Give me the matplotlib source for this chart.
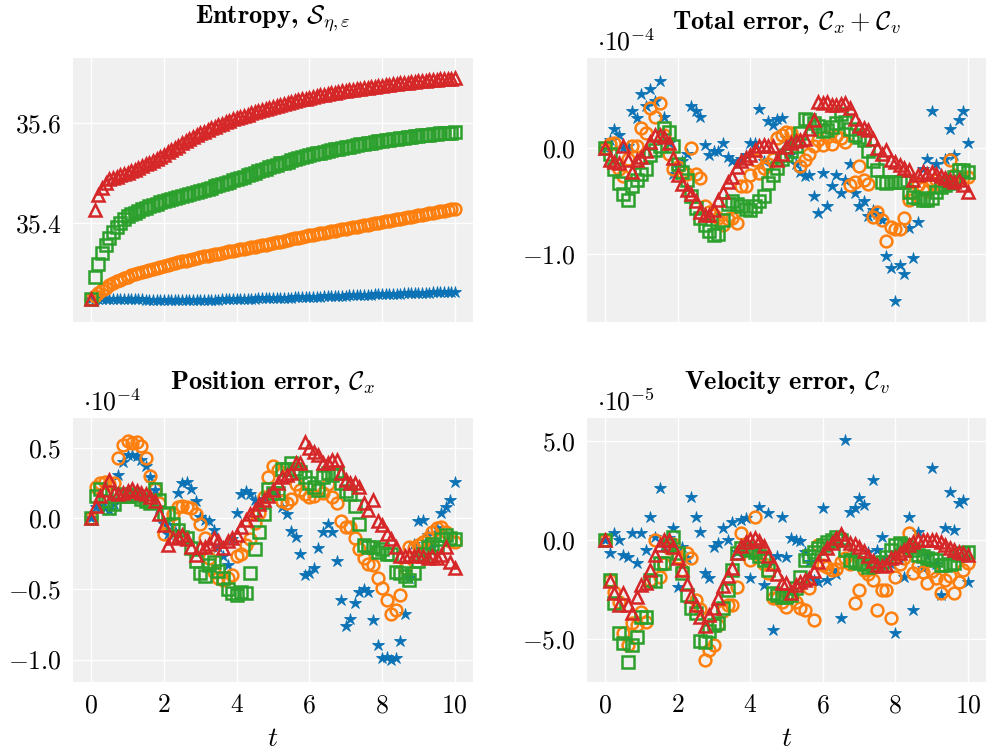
import numpy as np
import matplotlib
matplotlib.use("Agg")
import matplotlib.pyplot as plt
from matplotlib.ticker import FuncFormatter

plt.rcParams["font.family"] = "serif"
plt.rcParams["font.serif"] = ["cmr10"]
plt.rcParams["mathtext.fontset"] = "cm"
plt.rcParams["axes.formatter.use_mathtext"] = True

# time grids: entropy every 0.1, errors every 1/8
t_ent = np.linspace(0, 10, 101)
t = np.linspace(0, 10, 81)

# ---- entropy S_{eta,eps}
ent_blue = [35.247, 35.246, 35.246, 35.246, 35.246, 35.246, 35.246, 35.246, 35.246, 35.246,
            35.246, 35.246, 35.246, 35.246, 35.246, 35.245, 35.245, 35.245, 35.245, 35.245,
            35.245, 35.245, 35.245, 35.245, 35.245, 35.245, 35.245, 35.245, 35.245, 35.245,
            35.245, 35.245, 35.245, 35.245, 35.245, 35.245, 35.246, 35.246, 35.246, 35.246,
            35.246, 35.246, 35.247, 35.247, 35.247, 35.247, 35.248, 35.248, 35.248, 35.248,
            35.248, 35.248, 35.249, 35.249, 35.249, 35.249, 35.250, 35.250, 35.250, 35.250,
            35.250, 35.251, 35.251, 35.251, 35.252, 35.252, 35.252, 35.253, 35.253, 35.253,
            35.253, 35.254, 35.254, 35.254, 35.255, 35.255, 35.255, 35.255, 35.256, 35.256,
            35.256, 35.256, 35.257, 35.257, 35.257, 35.257, 35.258, 35.258, 35.258, 35.258,
            35.259, 35.259, 35.259, 35.259, 35.260, 35.260, 35.260, 35.260, 35.261, 35.261,
            35.261]
ent_orange = [35.247, 35.253, 35.259, 35.264, 35.269, 35.274, 35.278, 35.282, 35.285, 35.288,
              35.291, 35.294, 35.296, 35.299, 35.301, 35.303, 35.305, 35.308, 35.310, 35.312,
              35.314, 35.316, 35.318, 35.319, 35.321, 35.323, 35.324, 35.326, 35.328, 35.329,
              35.331, 35.333, 35.334, 35.335, 35.337, 35.338, 35.340, 35.341, 35.343, 35.344,
              35.346, 35.347, 35.348, 35.350, 35.351, 35.352, 35.354, 35.355, 35.356, 35.358,
              35.359, 35.361, 35.362, 35.364, 35.365, 35.367, 35.369, 35.370, 35.372, 35.373,
              35.375, 35.376, 35.378, 35.379, 35.380, 35.382, 35.383, 35.384, 35.385, 35.387,
              35.388, 35.389, 35.391, 35.392, 35.393, 35.395, 35.396, 35.397, 35.399, 35.400,
              35.401, 35.403, 35.404, 35.405, 35.407, 35.408, 35.409, 35.411, 35.412, 35.414,
              35.415, 35.416, 35.418, 35.419, 35.420, 35.422, 35.423, 35.424, 35.426, 35.427,
              35.428]
ent_green = [35.247, 35.290, 35.318, 35.340, 35.356, 35.369, 35.382, 35.392, 35.400, 35.407,
             35.414, 35.417, 35.420, 35.423, 35.427, 35.430, 35.433, 35.435, 35.438, 35.441,
             35.443, 35.445, 35.447, 35.449, 35.451, 35.453, 35.455, 35.457, 35.459, 35.461,
             35.463, 35.465, 35.468, 35.470, 35.473, 35.475, 35.477, 35.480, 35.482, 35.485,
             35.487, 35.490, 35.492, 35.495, 35.498, 35.500, 35.503, 35.506, 35.508, 35.511,
             35.514, 35.516, 35.519, 35.521, 35.523, 35.526, 35.528, 35.530, 35.532, 35.534,
             35.536, 35.538, 35.540, 35.541, 35.543, 35.545, 35.546, 35.548, 35.549, 35.551,
             35.552, 35.553, 35.555, 35.556, 35.558, 35.559, 35.560, 35.561, 35.563, 35.564,
             35.565, 35.566, 35.567, 35.568, 35.569, 35.570, 35.571, 35.572, 35.573, 35.574,
             35.575, 35.576, 35.577, 35.577, 35.578, 35.579, 35.580, 35.580, 35.581, 35.581,
             35.582]
ent_red = [35.247, 35.425, 35.455, 35.470, 35.480, 35.487, 35.490, 35.492, 35.495, 35.497,
           35.500, 35.503, 35.506, 35.510, 35.513, 35.517, 35.521, 35.525, 35.529, 35.533,
           35.537, 35.542, 35.546, 35.551, 35.555, 35.560, 35.564, 35.568, 35.572, 35.576,
           35.580, 35.583, 35.587, 35.590, 35.593, 35.596, 35.599, 35.602, 35.605, 35.608,
           35.610, 35.612, 35.615, 35.617, 35.620, 35.622, 35.624, 35.626, 35.628, 35.631,
           35.633, 35.635, 35.637, 35.639, 35.641, 35.643, 35.644, 35.646, 35.648, 35.649,
           35.651, 35.653, 35.654, 35.656, 35.657, 35.658, 35.660, 35.661, 35.662, 35.664,
           35.665, 35.666, 35.667, 35.668, 35.669, 35.670, 35.671, 35.672, 35.673, 35.674,
           35.675, 35.676, 35.677, 35.678, 35.679, 35.680, 35.681, 35.681, 35.682, 35.683,
           35.684, 35.685, 35.685, 35.686, 35.686, 35.687, 35.688, 35.688, 35.689, 35.689,
           35.690]

# ---- total error C_x + C_v  (units of 1e-4)
tot_blue = [0.00, 0.08, 0.18, 0.13, 0.00, 0.02, 0.35, 0.29, 0.51, 0.40,
            0.56, 0.45, 0.64, 0.30, 0.05, -0.24, -0.18, -0.12, -0.05, 0.40,
            0.35, 0.30, 0.03, -0.06, -0.03, -0.03, 0.05, -0.08, -0.12, -0.15,
            -0.10, -0.06, 0.05, 0.05, 0.37, -0.12, 0.26, 0.22, 0.28, 0.29,
            0.10, -0.05, -0.15, -0.22, -0.26, -0.25, -0.45, -0.61, -0.23, -0.55,
            -0.36, -0.25, -0.42, -0.30, -0.15, -0.42, -0.55, -0.50, -0.64, -0.58,
            -0.62, -0.68, -1.02, -1.13, -1.44, -1.10, -1.19, -0.75, -1.04, -0.70,
            -0.20, -0.10, 0.35, -0.15, -0.30, -0.10, 0.18, -0.06, 0.27, 0.35,
            0.05]
tot_orange = [0.00, 0.04, 0.05, -0.20, -0.26, -0.10, 0.02, 0.02, 0.19, 0.14,
              0.38, 0.30, 0.43, 0.13, -0.05, -0.20, -0.18, -0.22, -0.24, 0.00,
              -0.24, -0.28, -0.55, -0.60, -0.63, -0.66, -0.73, -0.67, -0.66, -0.71,
              -0.36, -0.36, -0.25, -0.11, -0.23, -0.19, -0.15, -0.10, 0.10, 0.13,
              0.15, 0.14, 0.08, -0.17, -0.11, -0.05, 0.02, 0.08, 0.03, 0.11,
              0.04, 0.12, 0.10, 0.06, -0.35, -0.32, -0.17, -0.30, -0.34, -0.65,
              -0.60, -0.68, -0.88, -0.74, -0.76, -0.76, -0.66, -0.49, -0.42, -0.35,
              -0.38, -0.40, -0.33, -0.30, -0.35, -0.32, -0.11, -0.25, -0.30, -0.28,
              -0.27]
tot_green = [0.00, -0.05, -0.20, -0.33, -0.43, -0.49, -0.36, -0.30, -0.24, -0.20,
             -0.06, -0.02, 0.02, 0.19, 0.15, 0.02, -0.15, -0.22, -0.30, -0.45,
             -0.56, -0.66, -0.73, -0.78, -0.82, -0.81, -0.68, -0.53, -0.50, -0.53,
             -0.55, -0.57, -0.58, -0.55, -0.50, -0.45, -0.33, -0.25, -0.19, -0.10,
             -0.06, -0.03, 0.02, 0.14, 0.28, 0.27, 0.24, 0.21, 0.16, 0.17,
             0.20, 0.24, 0.32, 0.25, 0.18, 0.13, 0.11, 0.08, -0.03, -0.12,
             -0.21, -0.32, -0.33, -0.32, -0.32, -0.32, -0.32, -0.41, -0.46, -0.47,
             -0.49, -0.49, -0.47, -0.41, -0.37, -0.35, -0.33, -0.27, -0.21, -0.21,
             -0.22]
tot_red = [0.00, -0.11, -0.13, -0.14, 0.02, -0.11, -0.22, -0.11, -0.08, -0.03,
           0.06, 0.13, 0.13, 0.11, 0.05, -0.09, -0.25, -0.34, -0.39, -0.43,
           -0.50, -0.60, -0.63, -0.63, -0.58, -0.49, -0.41, -0.32, -0.27, -0.18,
           -0.12, -0.09, -0.06, -0.02, 0.02, 0.03, 0.02, 0.02, -0.11, -0.05,
           0.01, 0.05, 0.07, 0.08, 0.09, 0.18, 0.27, 0.44, 0.43, 0.44,
           0.41, 0.41, 0.42, 0.43, 0.38, 0.28, 0.21, 0.19, 0.17, 0.09,
           0.00, -0.05, -0.02, -0.11, -0.13, -0.16, -0.19, -0.21, -0.30, -0.25,
           -0.22, -0.24, -0.22, -0.24, -0.26, -0.28, -0.30, -0.32, -0.30, -0.35,
           -0.41]

# ---- position error C_x  (units of 1e-4)
cx_blue = [0.00, 0.08, 0.09, 0.07, 0.06, 0.10, 0.31, 0.40, 0.45, 0.45,
           0.44, 0.41, 0.37, 0.29, 0.20, 0.07, -0.04, -0.11, -0.05, 0.18,
           0.25, 0.26, 0.21, 0.12, 0.01, -0.01, -0.02, -0.08, -0.20, -0.27,
           -0.33, -0.15, 0.04, 0.17, 0.19, 0.17, 0.13, 0.11, 0.14, 0.17,
           0.20, 0.16, 0.08, 0.03, -0.09, -0.13, -0.25, -0.40, -0.39, -0.35,
           -0.21, -0.10, -0.04, -0.10, -0.30, -0.58, -0.76, -0.71, -0.60, -0.52,
           -0.50, -0.52, -0.72, -0.90, -0.99, -0.98, -1.00, -0.99, -0.87, -0.68,
           -0.42, -0.18, -0.02, -0.01, -0.12, -0.20, -0.07, 0.04, 0.08, 0.13,
           0.26]
cx_orange = [0.00, 0.22, 0.25, 0.26, 0.24, 0.25, 0.43, 0.52, 0.55, 0.53,
             0.54, 0.51, 0.43, 0.30, 0.21, 0.11, -0.11, -0.05, 0.03, 0.08,
             0.09, 0.08, 0.07, 0.03, -0.04, -0.14, -0.28, -0.38, -0.42, -0.44,
             -0.42, -0.40, -0.27, -0.25, -0.19, -0.15, -0.03, 0.04, 0.15, 0.29,
             0.37, 0.34, 0.12, 0.11, 0.14, 0.24, 0.20, 0.17, 0.15, 0.16,
             0.21, 0.18, 0.24, 0.15, 0.11, -0.02, -0.06, -0.06, -0.14, -0.22,
             -0.28, -0.32, -0.33, -0.42, -0.49, -0.58, -0.68, -0.65, -0.54, -0.35,
             -0.20, -0.21, -0.19, -0.17, -0.14, -0.10, -0.07, -0.06, -0.10, -0.16,
             -0.17]
cx_green = [0.00, 0.16, 0.21, 0.12, 0.07, 0.10, 0.17, 0.16, 0.16, 0.17,
            0.16, 0.14, 0.12, 0.11, 0.21, 0.13, 0.03, 0.04, -0.04, -0.08,
            -0.13, -0.14, -0.21, -0.30, -0.39, -0.41, -0.33, -0.31, -0.37, -0.42,
            -0.50, -0.53, -0.54, -0.52, -0.53, -0.39, -0.22, -0.10, 0.03, 0.21,
            0.18, 0.18, 0.35, 0.35, 0.39, 0.35, 0.33, 0.29, 0.25, 0.22,
            0.20, 0.29, 0.32, 0.31, 0.32, 0.25, 0.19, 0.17, 0.09, -0.04,
            -0.19, -0.20, -0.20, -0.24, -0.22, -0.25, -0.25, -0.38, -0.39, -0.41,
            -0.44, -0.39, -0.30, -0.25, -0.20, -0.18, -0.20, -0.15, -0.12, -0.14,
            -0.15]
cx_red = [0.00, 0.09, 0.16, 0.20, 0.27, 0.18, 0.17, 0.18, 0.19, 0.21,
          0.19, 0.18, 0.17, 0.15, 0.12, 0.03, -0.05, -0.19, -0.14, -0.13,
          -0.12, -0.15, -0.20, -0.26, -0.20, -0.20, -0.18, -0.14, -0.16, -0.21,
          -0.16, -0.14, -0.12, -0.06, -0.01, 0.03, 0.06, 0.10, 0.13, 0.16,
          0.20, 0.25, 0.29, 0.31, 0.32, 0.39, 0.39, 0.54, 0.50, 0.47,
          0.45, 0.39, 0.39, 0.41, 0.41, 0.32, 0.27, 0.25, 0.25, 0.22,
          0.11, 0.06, 0.13, -0.02, -0.05, -0.11, -0.15, -0.20, -0.27, -0.27,
          -0.26, -0.27, -0.26, -0.27, -0.28, -0.27, -0.28, -0.26, -0.20, -0.31,
          -0.35]

# ---- velocity error C_v  (units of 1e-5)
cv_blue = [0.00, -0.66, 0.34, 0.00, -0.74, -0.87, 0.37, -1.16, 0.37, -0.50,
           1.18, 0.17, 2.64, -0.30, 0.10, 0.59, -2.35, -0.34, -0.92, 2.15,
           1.18, 0.42, -1.68, -1.93, -0.34, -0.17, 0.59, 0.00, 0.92, -0.60,
           1.01, 1.09, -1.93, -0.40, 1.68, -2.27, 1.34, -4.54, -0.80, 1.18,
           -0.84, 0.08, 0.00, -0.07, -0.59, -1.10, -2.00, -2.10, 1.60, -2.02,
           -1.50, -1.70, -3.95, 5.04, 1.43, 1.60, 2.10, 1.76, -0.60, 3.03,
           -0.50, 0.17, -0.90, -1.20, -4.71, -1.00, -1.85, 1.18, -3.53, 0.42,
           -1.40, -0.80, 3.61, -1.20, -2.77, 0.59, 2.44, 0.50, 1.85, 2.02,
           -2.10]
cv_orange = [0.00, -2.00, -2.60, -3.10, -4.71, -5.30, -4.20, -4.30, -3.61, -4.12,
             -2.00, 0.00, -1.85, -1.20, -0.40, -0.20, -0.84, -1.51, -0.66, -0.92,
             -3.03, -3.50, -6.05, -5.55, -5.29, -4.30, -3.60, -3.28, -3.28, -2.35,
             0.34, -0.50, -1.01, 1.18, -0.50, -1.20, -1.68, -2.94, -2.94, -3.10,
             -3.36, -2.80, -3.10, -3.45, -3.51, -2.44, -4.03, -0.25, -1.24, -1.34,
             -1.51, -1.45, -1.10, -0.90, -1.20, -3.19, -2.52, -1.50, -1.70, -2.00,
             -3.53, -2.52, -2.52, -3.95, -1.85, -1.20, -0.90, 0.34, -1.68, -1.30,
             -1.60, -2.18, -1.58, -1.90, -2.69, -2.02, -1.80, -2.69, -2.10, -1.50,
             -1.18]
cv_green = [0.00, -2.02, -3.19, -4.71, -5.21, -6.13, -5.29, -4.87, -3.87, -3.87,
            -2.02, -2.08, -1.18, -1.18, -0.25, 0.17, -0.67, -1.68, -2.77, -3.45,
            -3.70, -5.08, -5.13, -4.60, -4.29, -4.20, -3.45, -2.52, -1.51, -0.67,
            -0.42, -0.42, -0.50, -0.59, -0.80, -1.01, -1.51, -2.69, -2.77, -2.86,
            -2.86, -2.77, -2.40, -1.85, -1.01, -0.80, -0.59, -0.42, -0.25, -0.08,
            0.00, 0.17, 0.00, -0.50, -1.01, -1.09, -1.18, -1.20, -1.34, -1.30,
            -1.26, -1.10, -0.84, -0.50, -0.24, -0.17, -0.25, -0.34, -0.50, -0.76,
            -0.80, -0.91, -0.95, -1.01, -1.26, -1.26, -1.20, -1.16, -0.74, -0.65,
            -0.59]
cv_red = [0.00, -2.05, -2.67, -3.30, -2.67, -3.27, -3.70, -2.89, -2.25, -2.17,
          -1.50, -0.77, -0.24, -0.02, -0.02, -0.35, -0.90, -1.50, -2.20, -2.84,
          -3.26, -3.90, -4.35, -3.76, -3.43, -2.92, -2.34, -1.83, -1.40, -0.66,
          -0.30, -0.10, 0.05, 0.10, -0.05, -0.30, -0.80, -1.20, -1.70, -2.18,
          -2.18, -2.69, -2.27, -2.10, -2.02, -1.90, -1.55, -1.10, -0.70, -0.40,
          -0.17, 0.08, 0.30, 0.00, -0.17, -0.20, -0.35, -0.55, -0.82, -1.05,
          -1.24, -1.30, -1.26, -0.92, -0.84, -0.67, -0.50, -0.25, -0.10, 0.00,
          0.00, 0.00, 0.00, 0.00, -0.08, -0.25, -0.40, -0.50, -0.60, -0.67,
          -0.76]

colors = ["#0b72b5", "#ff7f0e", "#2ca02c", "#d62728"]
markers = ["*", "o", "s", "^"]

panels = [
    ("Entropy, ", r"$\mathcal{S}_{\eta,\varepsilon}$", t_ent, [ent_blue, ent_orange, ent_green, ent_red],
     (35.2005, 35.731), [35.4, 35.6], None),
    ("Total error, ", r"$\mathcal{C}_x + \mathcal{C}_v$", t, [tot_blue, tot_orange, tot_green, tot_red],
     (-1.643, 0.854), [-1.0, 0.0], r"$\cdot 10^{-4}$"),
    ("Position error, ", r"$\mathcal{C}_x$", t, [cx_blue, cx_orange, cx_green, cx_red],
     (-1.161, 0.708), [-1.0, -0.5, 0.0, 0.5], r"$\cdot 10^{-4}$"),
    ("Velocity error, ", r"$\mathcal{C}_v$", t, [cv_blue, cv_orange, cv_green, cv_red],
     (-7.17, 6.13), [-5.0, 0.0, 5.0], r"$\cdot 10^{-5}$"),
]

fig = plt.figure(figsize=(9.86, 7.51), dpi=100)
rects = [
    [0.074, 0.5712, 0.4057, 0.3516],
    [0.5953, 0.5712, 0.4047, 0.3516],
    [0.074, 0.0915, 0.4057, 0.3515],
    [0.5953, 0.0915, 0.4047, 0.3515],
]

fmt = FuncFormatter(lambda v, p: f"${v:.1f}$")

for i, (name, sym, tt, series, ylim, yticks, offset) in enumerate(panels):
    ax = fig.add_axes(rects[i])
    ax.set_facecolor("#f0f0f0")
    for sp in ax.spines.values():
        sp.set_visible(False)
    ax.grid(True, color="white", linewidth=1.0)
    ax.set_axisbelow(True)

    for vals, c, m in zip(series, colors, markers):
        if m == "*":
            ax.plot(tt, vals, linestyle="none", marker=m, color=c, markersize=9,
                    markeredgewidth=0.6)
        else:
            ax.plot(tt, vals, linestyle="none", marker=m, markerfacecolor="none",
                    markeredgecolor=c, markersize=8.5, markeredgewidth=1.8)

    ax.set_xlim(-0.5, 10.5)
    ax.set_xticks([0, 2, 4, 6, 8, 10])
    ax.set_ylim(*ylim)
    ax.set_yticks(yticks)
    ax.yaxis.set_major_formatter(fmt)
    ax.tick_params(length=0, pad=8, labelsize=18.5)
    if i < 2:
        ax.tick_params(labelbottom=False)
    else:
        ax.xaxis.set_major_formatter(FuncFormatter(lambda v, p: f"${v:.0f}$"))
        ax.set_xlabel(r"$t$", fontsize=20, labelpad=6)

    ax.set_title(name + sym, fontfamily="cmb10", fontsize=19, pad=25 if i == 0 else 21)
    if offset:
        ax.text(0.025, 1.03, offset, transform=ax.transAxes, ha="left", va="baseline",
                fontsize=18.5)

fig.savefig("out.png", dpi=100)
